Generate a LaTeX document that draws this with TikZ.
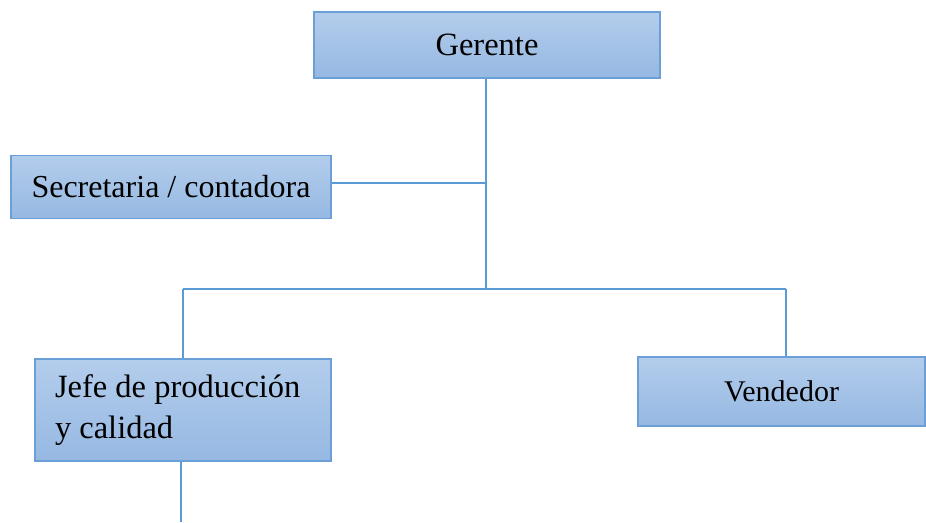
\documentclass[tikz,border=0pt]{standalone}
\usepackage{fontspec}
\setmainfont{Liberation Serif}
\definecolor{boxline}{HTML}{6A9FD8}
\definecolor{topc}{HTML}{B3CDEC}
\definecolor{botc}{HTML}{96B8E2}
\definecolor{wire}{HTML}{5B9BD5}
\tikzset{
  box/.style={draw=boxline, line width=1.2pt, top color=topc, bottom color=botc, rectangle, inner sep=0pt, font=\fontsize{32.5}{41}\selectfont},
  wireline/.style={draw=wire, line width=1.1pt}
}
\begin{document}
\begin{tikzpicture}[x=1pt,y=-1pt]
\useasboundingbox (0,0) rectangle (926,522);
\node[box, minimum width=346pt, minimum height=66pt] (ger) at (487,45) {Gerente};
\node[box, minimum width=320pt, minimum height=63pt, font=\fontsize{32}{41}\selectfont] (sec) at (171,187) {Secretaria / contadora};
\node[box, minimum width=296pt, minimum height=102pt, text width=256pt, align=left, inner xsep=20pt] (jefe) at (183,410) {\spaceskip=0.25em plus 0em\relax Jefe de producción\\y calidad};
\node[box, minimum width=287pt, minimum height=69pt, font=\fontsize{30}{36}\selectfont] (ven) at (781.5,391.5) {Vendedor};
\coordinate (tee) at (486,183);
\coordinate (bus) at (486,289);
\coordinate (busl) at (183,289);
\coordinate (busr) at (786,289);
\coordinate (tail) at (181,522);
\draw[wireline] (ger.south -| tee) -- (bus);
\draw[wireline] (sec.east |- tee) -- (tee);
\draw[wireline] (busl) -- (busr);
\draw[wireline] (busl) -- (busl |- jefe.north);
\draw[wireline] (busr) -- (busr |- ven.north);
\draw[wireline] (jefe.south -| tail) -- (tail);
\end{tikzpicture}
\end{document}
